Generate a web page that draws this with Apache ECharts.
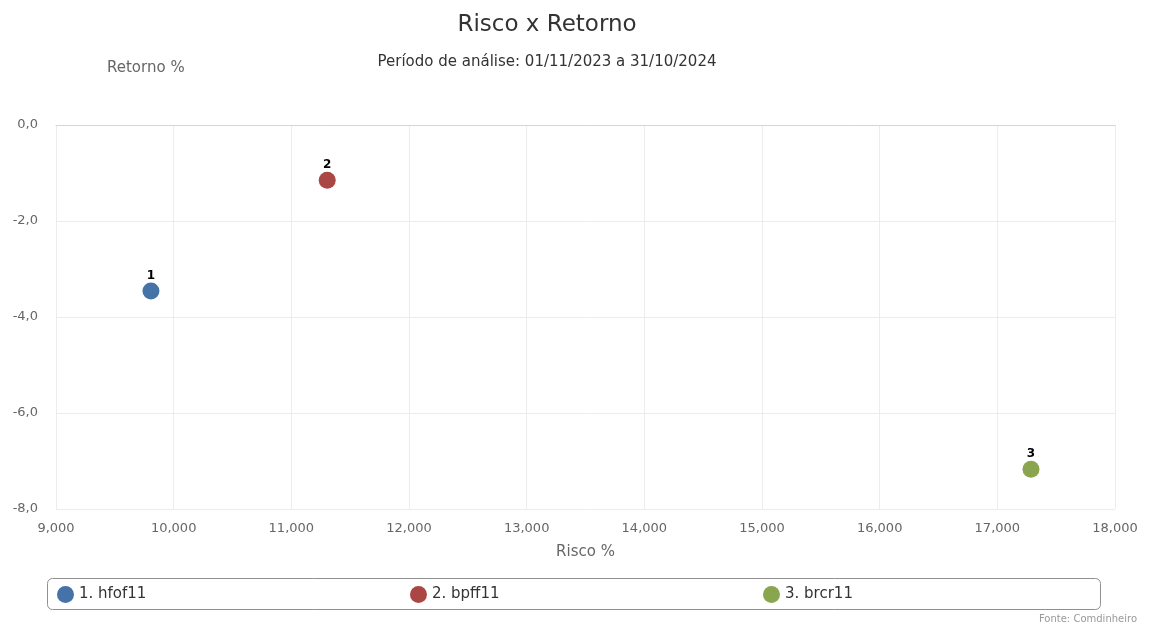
<!DOCTYPE html>
<html>
<head>
<meta charset="utf-8">
<script src="https://cdn.jsdelivr.net/npm/echarts@6/dist/echarts.min.js"></script>
<style>
html,body{margin:0;padding:0;background:#fff;}
#chart{width:1165px;height:624px;}
</style>
</head>
<body>
<div id="chart"></div>
<script>
var seriesNames = ['1. hfof11', '2. bpff11', '3. brcr11'];
var pointLabels = ['1', '2', '3'];
var riscoValues = [9.807, 11.305, 17.286];
var retornoValues = [-3.46, -1.15, -7.17];
var seriesColors = ['#4572A7', '#AA4643', '#89A54E'];
var xTicks = [9, 10, 11, 12, 13, 14, 15, 16, 17, 18];
var yTicks = [-8, -6, -4, -2, 0];

var FONT = 'DejaVu Sans';
var chart = echarts.init(document.getElementById('chart'));

var series = seriesNames.map(function (n, i) {
  return {
    name: n,
    type: 'scatter',
    symbol: 'circle',
    symbolSize: 17,
    itemStyle: { color: seriesColors[i], opacity: 1 },
    emphasis: { scale: false },
    data: [[riscoValues[i], retornoValues[i]]],
    label: {
      show: true,
      position: 'top',
      distance: 1,
      formatter: pointLabels[i],
      color: '#000',
      opacity: 1,
      fontFamily: FONT,
      fontWeight: 'bold',
      fontSize: 12,
      textBorderColor: '#fff',
      textBorderWidth: 2
    }
  };
});

var legendLefts = [52, 405, 758];
var legends = seriesNames.map(function (n, i) {
  return {
    data: [n],
    left: legendLefts[i],
    top: 581,
    icon: 'circle',
    itemWidth: 17,
    itemHeight: 17,
    itemGap: 7,
    textStyle: { fontFamily: FONT, fontSize: 15, color: '#333' },
    selectedMode: false
  };
});

chart.setOption({
  animation: false,
  backgroundColor: '#fff',
  title: [
    { text: 'Risco x Retorno', left: 542, textAlign: 'center', top: 9,
      textStyle: { fontFamily: FONT, fontSize: 23, fontWeight: 'normal', color: '#333' } },
    { text: 'Período de análise: 01/11/2023 a 31/10/2024', left: 542, textAlign: 'center', top: 50,
      textStyle: { fontFamily: FONT, fontSize: 15, fontWeight: 'normal', color: '#333' } }
  ],
  graphic: [{
    type: 'rect',
    shape: { x: 47.5, y: 578.5, width: 1053, height: 31, r: 5 },
    style: { fill: 'none', stroke: '#909090', lineWidth: 1 },
    z: 0
  }, {
    type: 'text',
    x: 1137, y: 619,
    style: { text: 'Fonte: Comdinheiro', fill: '#999', font: '10px "DejaVu Sans"', textAlign: 'right', textVerticalAlign: 'middle' }
  }],
  legend: legends,
  grid: { left: 56, right: 50, top: 125, bottom: 115 },
  xAxis: {
    type: 'value',
    min: xTicks[0],
    max: xTicks[xTicks.length - 1],
    interval: 1,
    name: 'Risco %',
    nameLocation: 'middle',
    nameGap: 36,
    nameTextStyle: { fontFamily: FONT, fontSize: 15, color: '#666' },
    axisLine: { show: true, lineStyle: { color: '#ccd6eb' } },
    axisTick: { show: false },
    axisLabel: {
      fontFamily: FONT, fontSize: 13, color: '#666', margin: 13,
      formatter: function (v) { return v.toFixed(3).replace('.', ','); }
    },
    splitLine: { show: true, lineStyle: { color: '#ececec' } }
  },
  yAxis: {
    type: 'value',
    min: yTicks[0],
    max: yTicks[yTicks.length - 1],
    interval: 2,
    name: 'Retorno %',
    nameLocation: 'end',
    nameGap: 49,
    nameTextStyle: { fontFamily: FONT, fontSize: 15, color: '#666', align: 'left', padding: [0, 0, 0, 51] },
    axisLine: { show: false },
    axisTick: { show: false },
    axisLabel: {
      fontFamily: FONT, fontSize: 13, color: '#666', margin: 18,
      formatter: function (v) { return v.toFixed(1).replace('.', ','); }
    },
    splitLine: { show: true, lineStyle: { color: '#ececec' } }
  },
  series: series
});
</script>
</body>
</html>
